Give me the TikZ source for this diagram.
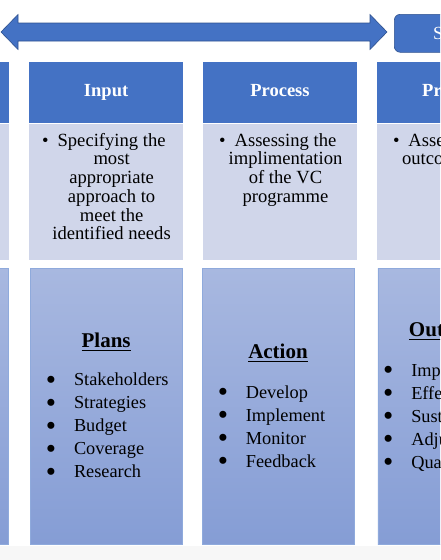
\documentclass[tikz,border=0pt]{standalone}
\usepackage{fontspec}
\setmainfont{Liberation Serif}
\usepackage{xcolor}
\usepackage{graphicx}
\usetikzlibrary{positioning}

\definecolor{hdblue}{RGB}{68,114,196}
\definecolor{hdline}{RGB}{47,82,143}
\definecolor{cellblue}{RGB}{208,214,234}
\definecolor{paneltop}{RGB}{168,184,224}
\definecolor{panelbot}{RGB}{133,157,213}
\definecolor{panelline}{RGB}{143,170,220}

\newcommand{\bitem}[1]{\makebox[26.5pt][l]{\hspace{-1.6pt}\smash{\raisebox{-3.6pt}{\scalebox{1.6}{\textbullet}}}}#1}
\newcommand{\thickul}[1]{\setbox0=\hbox{#1}\rlap{\copy0}\raisebox{-3.2pt}{\rule{\wd0}{1.2pt}}}

\begin{document}
\begin{tikzpicture}[
    x=1pt, y=-1pt,
    head/.style={rectangle, fill=hdblue, text=white, inner sep=0pt, minimum width=154pt, minimum height=60.5pt,
                 text height=12.5pt, text depth=4pt, font=\fontsize{18.5}{20}\selectfont\bfseries},
    cell/.style={rectangle, fill=cellblue, inner sep=0pt, minimum width=154pt, minimum height=135.5pt},
    celltext/.style={inner sep=0pt, align=center, font=\fontsize{18.6}{18.7}\selectfont},
    panel/.style={rectangle, draw=panelline, line width=0.6pt, top color=paneltop, bottom color=panelbot,
                  inner sep=0pt, minimum width=152pt, minimum height=276pt},
    ptitle/.style={inner sep=0pt, font=\fontsize{21}{24}\selectfont\bfseries},
    plist/.style={inner sep=0pt, align=left, font=\fontsize{18.3}{23}\selectfont},
    sbox/.style={rectangle, rounded corners=6pt, fill=hdblue, draw=hdline, line width=0.6pt, text=white,
                 inner sep=0pt, minimum width=162pt, minimum height=38pt, font=\fontsize{18.5}{20}\selectfont}
]
\useasboundingbox (0,0) rectangle (440,560);
\clip (0,0) rectangle (440,560);
\fill[black!3] (0,546) rectangle (440,560);

\fill[hdblue, draw=hdline, line width=0.6pt]
    (1,32) -- (18,14.5) -- (18,23) -- (370,23) -- (370,14.5) -- (387,32)
    -- (370,49.5) -- (370,41) -- (18,41) -- (18,49.5) -- cycle;
\node[sbox, anchor=north west] (summ) at (394,14) {Summative};

\node[head, anchor=north west] (hctx) at (-145,62) {};
\node[head, right=19.5pt of hctx]   (hinput) {Input};
\node[head, right=19.5pt of hinput] (hproc)  {Process};
\node[head, right=19.5pt of hproc]  (hprod)  {Product};

\node[cell, below=1pt of hctx]   (cctx)   {};
\node[cell, below=1pt of hinput] (cinput) {};
\node[cell, below=1pt of hproc]  (cproc)  {};
\node[cell, below=1pt of hprod]  (cprod)  {};

\node[celltext, below=9pt of cinput.north, xshift=5.5pt] (tinput)
    {\llap{\textbullet\hspace{9pt}}Specifying the\\most\\appropriate\\approach to\\meet the\\identified needs};
\node[celltext, below=9pt of cproc.north, xshift=5.5pt] (tproc)
    {\llap{\textbullet\hspace{9pt}}Assessing the\\implimentation\\of the VC\\programme};
\node[celltext, below=9pt of cprod.north, xshift=5.5pt] (tprod)
    {\llap{\textbullet\hspace{9pt}}Assessing the\\outcome of VC};

\node[panel, below=8pt of cctx]   (pctx)   {};
\node[panel, below=8pt of cinput] (pplans) {};
\node[panel, below=8pt of cproc, xshift=-2pt] (pact) {};
\node[panel, below=8pt of cprod]  (pout)   {};

\node[ptitle, below=79.8pt of pplans.north, anchor=base] (tplans) {\thickul{Plans}};
\node[ptitle, below=90.8pt of pact.north, anchor=base]   (tact)   {\thickul{Action}};
\node[ptitle, below=68.8pt of pout.north, anchor=base]   (tout)   {\thickul{Outcomes}};

\node[plist, below=104.7pt of pplans.north west, xshift=17.5pt, anchor=north west] (lplans)
    {\bitem{Stakeholders}\\\bitem{Strategies}\\\bitem{Budget}\\\bitem{Coverage}\\\bitem{Research}};
\node[plist, below=117.4pt of pact.north west, xshift=17.5pt, anchor=north west] (lact)
    {\bitem{Develop}\\\bitem{Implement}\\\bitem{Monitor}\\\bitem{Feedback}};
\node[plist, below=96.4pt of pout.north west, xshift=7pt, anchor=north west] (lout)
    {\bitem{Impact}\\\bitem{Effectiveness}\\\bitem{Sustainability}\\\bitem{Adjustment}\\\bitem{Quality}};

\end{tikzpicture}
\end{document}
